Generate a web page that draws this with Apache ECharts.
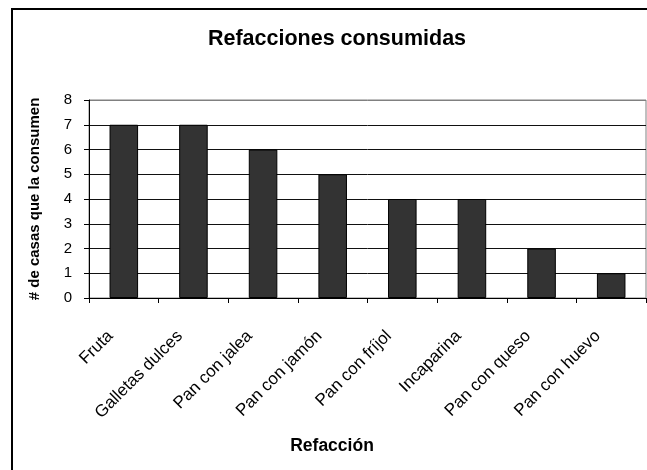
<!DOCTYPE html>
<html>
<head>
<meta charset="utf-8">
<script src="https://cdn.jsdelivr.net/npm/echarts@6/dist/echarts.min.js"></script>
<style>
  html, body { margin: 0; padding: 0; background: #fff; }
  #chart { width: 647px; height: 470px; }
</style>
</head>
<body>
<div id="chart"></div>
<script>
// Snacks and how many households eat each one
const categories = ['Fruta', 'Galletas dulces', 'Pan con jalea', 'Pan con jamón', 'Pan con fríjol', 'Incaparina', 'Pan con queso', 'Pan con huevo'];
const households = [7, 7, 6, 5, 4, 4, 2, 1];
const chartTitle = 'Refacciones consumidas';
const xTitle = 'Refacción';
const yTitle = '# de casas que la consumen';

const FONT = '"Liberation Sans", Arial, sans-serif';

const chart = echarts.init(document.getElementById('chart'), null, { renderer: 'canvas' });

chart.setOption({
  animation: false,
  backgroundColor: '#fff',
  textStyle: { fontFamily: FONT },
  title: [
    {
      text: chartTitle,
      left: 337, top: 28, textAlign: 'center', padding: 0,
      textStyle: { fontFamily: FONT, fontSize: 21.5, fontWeight: 'bold', color: '#000' }
    },
    {
      text: xTitle,
      left: 332, top: 437, textAlign: 'center', padding: 0,
      textStyle: { fontFamily: FONT, fontSize: 17.5, fontWeight: 'bold', color: '#000' }
    }
  ],
  // outer chart frame
  graphic: [{
    type: 'rect',
    shape: { x: 12, y: 9, width: 700, height: 520 },
    style: { fill: 'none', stroke: '#000', lineWidth: 2 },
    silent: true
  }],
  grid: {
    left: 89, top: 100, right: 1, bottom: 172,
    show: true, borderColor: '#808080', borderWidth: 1, backgroundColor: 'transparent'
  },
  xAxis: {
    type: 'category',
    data: categories,
    boundaryGap: true,
    axisLine: { lineStyle: { color: '#000', width: 1 } },
    axisTick: { show: true, inside: false, length: 5, alignWithLabel: false, lineStyle: { color: '#000' } },
    axisLabel: {
      rotate: 45, margin: 22, interval: 0,
      padding: [0, 19, 0, 0],
      fontFamily: FONT, fontSize: 17, color: '#000'
    },
    splitLine: { show: false }
  },
  yAxis: {
    type: 'value',
    min: 0, max: 8, interval: 1,
    name: yTitle,
    nameLocation: 'middle',
    nameRotate: 90,
    nameGap: 47,
    nameTextStyle: { fontFamily: FONT, fontSize: 15, fontWeight: 'bold', color: '#000' },
    axisLine: { show: true, lineStyle: { color: '#000', width: 1 } },
    axisTick: { show: true, inside: false, length: 5, lineStyle: { color: '#000' } },
    axisLabel: { margin: 17, fontFamily: FONT, fontSize: 15, color: '#000' },
    splitLine: {
      show: true,
      lineStyle: { color: ['#000', '#111', '#111', '#111', '#111', '#111', '#111', '#111', '#808080'], width: 1 }
    }
  },
  series: [{
    type: 'bar',
    data: households,
    barWidth: '41%',
    itemStyle: { color: '#333333', borderColor: '#000', borderWidth: 1 }
  }]
});
</script>
</body>
</html>
